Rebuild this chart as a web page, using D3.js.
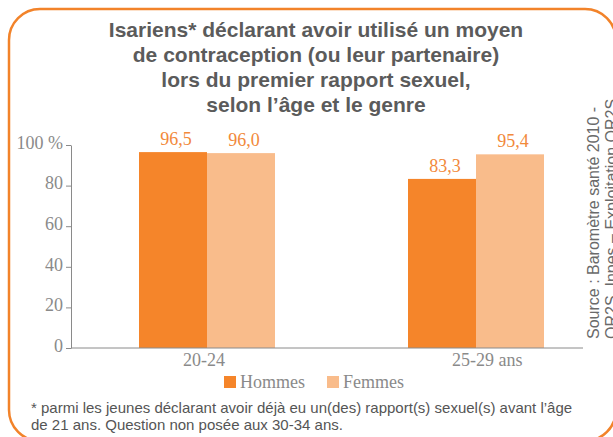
<!DOCTYPE html>
<html lang="fr">
<head>
    <meta charset="UTF-8">
    <title>Contraception au premier rapport sexuel</title>
    <script src="https://d3js.org/d3.v7.min.js"></script>
    <style>
        body { margin: 0; background: #fff; }
        .serif { font-family: "Liberation Serif", "Times New Roman", serif; }
        .sans { font-family: "Liberation Sans", Arial, sans-serif; }
    </style>
</head>
<body>
    <svg width="613" height="437"></svg>

    <script>
        // données
        const categories = ["20-24", "25-29 ans"];
        const series = ["Hommes", "Femmes"];
        const hommes = [96.5, 83.3];
        const femmes = [96.0, 95.4];
        const yTicks = [0, 20, 40, 60, 80, 100];

        const titleLines = [
            "Isariens* déclarant avoir utilisé un moyen",
            "de contraception (ou leur partenaire)",
            "lors du premier rapport sexuel,",
            "selon l’âge et le genre"
        ];
        const sourceLines = ["Source : Baromètre santé 2010 -", "OR2S, Inpes – Exploitation OR2S"];
        const noteLines = [
            "* parmi les jeunes déclarant avoir déjà eu un(des) rapport(s) sexuel(s) avant l’âge",
            "de 21 ans. Question non posée aux 30-34 ans."
        ];

        const colors = { Hommes: "#f5852a", Femmes: "#f9bc8b" };
        const grey = "#8a8a8a";

        const svg = d3.select("svg");

        // cadre arrondi orange
        svg.append("rect")
            .attr("x", 9).attr("y", 9)
            .attr("width", 607).attr("height", 432)
            .attr("rx", 31).attr("ry", 31)
            .attr("fill", "none")
            .attr("stroke", "#f2832a")
            .attr("stroke-width", 2.5);

        // titre
        svg.append("g").selectAll("text")
            .data(titleLines)
          .enter().append("text")
            .attr("class", "sans")
            .attr("x", 316)
            .attr("y", (d, i) => 37 + i * 25)
            .attr("text-anchor", "middle")
            .attr("fill", "#5b5b5b")
            .style("font-size", "21px")
            .style("font-weight", "bold")
            .text(d => d);

        const x0 = d3.scaleBand()
            .domain(categories)
            .range([72.5, 610.5])
            .padding(0);

        const groupW = 136;
        const x1 = d3.scaleBand()
            .domain(series)
            .range([(x0.bandwidth() - groupW) / 2, (x0.bandwidth() + groupW) / 2])
            .padding(0);

        const y = d3.scaleLinear()
            .domain([0, 100])
            .range([348, 145]);

        const data = categories.map((c, i) => ({
            cat: c,
            values: [
                { key: "Hommes", value: hommes[i] },
                { key: "Femmes", value: femmes[i] }
            ]
        }));

        const groups = svg.append("g").selectAll("g")
            .data(data)
          .enter().append("g")
            .attr("transform", d => "translate(" + x0(d.cat) + ",0)");

        groups.selectAll("rect")
            .data(d => d.values)
          .enter().append("rect")
            .attr("x", d => x1(d.key))
            .attr("y", d => y(d.value))
            .attr("width", x1.bandwidth())
            .attr("height", d => y(0) - y(d.value))
            .attr("fill", d => colors[d.key]);

        groups.selectAll("text.val")
            .data(d => d.values)
          .enter().append("text")
            .attr("class", "val serif")
            .attr("x", d => x1(d.key) + x1.bandwidth() / 2 + 3)
            .attr("y", d => y(d.value) - 7)
            .attr("text-anchor", "middle")
            .attr("fill", "#f2893a")
            .style("font-size", "18px")
            .text(d => d3.format(".1f")(d.value).replace(".", ","));

        // axe vertical
        const yAxis = svg.append("g")
            .attr("transform", "translate(71,0)")
            .call(d3.axisLeft(y)
                .tickValues(yTicks)
                .tickSizeInner(5)
                .tickSizeOuter(0)
                .tickPadding(3)
                .tickFormat(d => d === 100 ? "100 %" : d));
        yAxis.select(".domain").attr("stroke", grey);
        yAxis.selectAll(".tick line").attr("stroke", grey);
        yAxis.selectAll(".tick text")
            .attr("class", "serif")
            .attr("dy", "0.18em")
            .attr("fill", grey)
            .style("font-size", "18px");

        // axe horizontal
        svg.append("line")
            .attr("x1", 71).attr("x2", 583)
            .attr("y1", y(0)).attr("y2", y(0))
            .attr("stroke", grey)
            .attr("stroke-width", 1);

        svg.append("g").selectAll("text")
            .data(categories)
          .enter().append("text")
            .attr("class", "serif")
            .attr("x", d => x0(d) + x0.bandwidth() / 2 - 24)
            .attr("y", y(0) + 18)
            .attr("fill", grey)
            .style("font-size", "18px")
            .text(d => d);

        // légende
        const legend = svg.append("g").selectAll("g")
            .data(series)
          .enter().append("g")
            .attr("transform", (d, i) => "translate(" + (224 + i * 103) + ",376)");
        legend.append("rect")
            .attr("width", 12).attr("height", 12)
            .attr("fill", d => colors[d]);
        legend.append("text")
            .attr("class", "serif")
            .attr("x", 16)
            .attr("y", 12)
            .attr("fill", grey)
            .style("font-size", "18px")
            .text(d => d);

        // source verticale
        svg.append("g").selectAll("text")
            .data(sourceLines)
          .enter().append("text")
            .attr("class", "sans")
            .attr("transform", (d, i) => "translate(" + (599 + i * 18) + ",339) rotate(-90)")
            .attr("fill", "#6a6a6a")
            .style("font-size", "16px")
            .text(d => d);

        // note
        svg.append("g").selectAll("text")
            .data(noteLines)
          .enter().append("text")
            .attr("class", "sans")
            .attr("x", 31)
            .attr("y", (d, i) => 413 + i * 17)
            .attr("fill", "#555")
            .style("font-size", "15px")
            .text(d => d);
    </script>
</body>
</html>
